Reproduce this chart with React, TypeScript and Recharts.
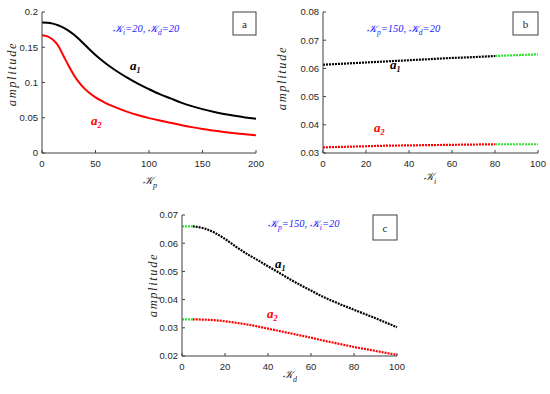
import { Line, LineChart, XAxis, YAxis } from "recharts";

// panel a: amplitude vs Kp (Ki = 20, Kd = 20)
const kp = [0, 5, 10, 15, 20, 25, 30, 35, 40, 45, 50, 55, 60, 70, 80, 90, 100, 110, 120, 130, 140, 150, 160, 170, 180, 190, 200];
const kpA1 = [0.185, 0.1847, 0.1835, 0.1812, 0.1778, 0.1733, 0.1678, 0.161, 0.1535, 0.146, 0.139, 0.1325, 0.1265, 0.116, 0.1065, 0.098, 0.0905, 0.0835, 0.0775, 0.0715, 0.0665, 0.0622, 0.0585, 0.0553, 0.0527, 0.0505, 0.0487];
const kpA2 = [0.167, 0.1655, 0.161, 0.1525, 0.138, 0.1235, 0.11, 0.0995, 0.091, 0.0845, 0.079, 0.0745, 0.0705, 0.064, 0.0583, 0.0535, 0.0495, 0.046, 0.0428, 0.0397, 0.0367, 0.034, 0.0318, 0.0298, 0.0281, 0.0265, 0.025];

// panel b: amplitude vs Ki (Kp = 150, Kd = 20), green beyond KI_SWITCH
const ki = [0, 10, 20, 30, 40, 50, 60, 70, 80, 90, 100];
const kiA1 = [0.0613, 0.0617, 0.0621, 0.0625, 0.0629, 0.0633, 0.0637, 0.064, 0.0644, 0.0647, 0.065];
const kiA2 = [0.032, 0.0322, 0.0324, 0.0326, 0.0327, 0.0328, 0.0329, 0.033, 0.0331, 0.0331, 0.0331];
const KI_SWITCH = 80;

// panel c: amplitude vs Kd (Kp = 150, Ki = 20), green below KD_SWITCH
const kd = [0, 5, 10, 15, 20, 25, 30, 35, 40, 45, 50, 55, 60, 65, 70, 75, 80, 85, 90, 95, 100];
const kdA1 = [0.066, 0.066, 0.0653, 0.0638, 0.0615, 0.0588, 0.0563, 0.0541, 0.0518, 0.0496, 0.0473, 0.0452, 0.0432, 0.0412, 0.0395, 0.0379, 0.0364, 0.0349, 0.0334, 0.0318, 0.0302];
const kdA2 = [0.033, 0.033, 0.0329, 0.0327, 0.0323, 0.0318, 0.0312, 0.0305, 0.0297, 0.0289, 0.0281, 0.0273, 0.0265, 0.0256, 0.0248, 0.024, 0.0232, 0.0225, 0.0218, 0.0211, 0.0204];
const KD_SWITCH = 5;

const aXTicks = [0, 50, 100, 150, 200];
const aYTicks = [0, 0.05, 0.1, 0.15, 0.2];
const bXTicks = [0, 20, 40, 60, 80, 100];
const bYTicks = [0.03, 0.04, 0.05, 0.06, 0.07, 0.08];
const cXTicks = [0, 20, 40, 60, 80, 100];
const cYTicks = [0.02, 0.03, 0.04, 0.05, 0.06, 0.07];

const dataA = kp.map((x, i) => ({ x, a1: kpA1[i], a2: kpA2[i] }));
const dataB = ki.map((x, i) => ({
  x,
  a1: x <= KI_SWITCH ? kiA1[i] : null,
  a2: x <= KI_SWITCH ? kiA2[i] : null,
  g1: x >= KI_SWITCH ? kiA1[i] : null,
  g2: x >= KI_SWITCH ? kiA2[i] : null,
}));
const dataC = kd.map((x, i) => ({
  x,
  a1: x >= KD_SWITCH ? kdA1[i] : null,
  a2: x >= KD_SWITCH ? kdA2[i] : null,
  g1: x <= KD_SWITCH ? kdA1[i] : null,
  g2: x <= KD_SWITCH ? kdA2[i] : null,
}));

const AXIS = "#404040";
const GREEN = "#2ee82e";
const BLUE = "#2323ff";
const tickStyle = { fontSize: 9.5, fill: "#262626", fontFamily: "Liberation Sans, Arial, sans-serif" };
const K = "\u{1D4A6}";

type PanelProps = {
  left: number;
  top: number;
  width: number;
  height: number;
  plot: { l: number; t: number; r: number; b: number };
  data: Record<string, number | null>[];
  xDomain: [number, number];
  yDomain: [number, number];
  xTicks: number[];
  yTicks: number[];
  dotted?: boolean;
};

function Panel({ left, top, width, height, plot, data, xDomain, yDomain, xTicks, yTicks, dotted }: PanelProps) {
  const lineProps = {
    type: "monotone" as const,
    dot: false,
    isAnimationActive: false,
    xAxisId: "b",
    yAxisId: "l",
    strokeWidth: dotted ? 2.2 : 2,
    strokeDasharray: dotted ? "2 1" : undefined,
    connectNulls: false,
  };
  return (
    <div style={{ position: "absolute", left, top }}>
      <LineChart
        width={width}
        height={height}
        data={data}
        margin={{ top: plot.t, right: width - plot.r, bottom: 0, left: 0 }}
      >
        <XAxis
          xAxisId="b"
          dataKey="x"
          type="number"
          domain={xDomain}
          ticks={xTicks}
          interval={0}
          height={height - plot.b}
          tickSize={-3}
          tickMargin={10}
          tick={tickStyle}
          stroke={AXIS}
        />
        <XAxis
          xAxisId="t"
          orientation="top"
          dataKey="x"
          type="number"
          domain={xDomain}
          ticks={xTicks}
          interval={0}
          height={0}
          tickSize={-3}
          tick={false}
          stroke={AXIS}
        />
        <YAxis
          yAxisId="l"
          type="number"
          domain={yDomain}
          ticks={yTicks}
          interval={0}
          width={plot.l}
          tickSize={-3}
          tickMargin={7}
          tick={tickStyle}
          stroke={AXIS}
          allowDataOverflow
        />
        <YAxis
          yAxisId="r"
          orientation="right"
          type="number"
          domain={yDomain}
          ticks={yTicks}
          interval={0}
          width={0}
          tickSize={-3}
          tick={false}
          stroke={AXIS}
        />
        <Line {...lineProps} dataKey="a1" stroke="#000000" />
        <Line {...lineProps} dataKey="a2" stroke="#ff0000" />
        {dotted && <Line {...lineProps} dataKey="g1" stroke={GREEN} />}
        {dotted && <Line {...lineProps} dataKey="g2" stroke={GREEN} />}
      </LineChart>
    </div>
  );
}

function Params({ x, y, p1, v1, p2, v2 }: { x: number; y: number; p1: string; v1: string; p2: string; v2: string }) {
  return (
    <text x={x} y={y} fill={BLUE} fontSize={10.5} fontStyle="italic" fontFamily="Liberation Serif, serif">
      <tspan>{K}</tspan>
      <tspan dy={3} fontSize={7.5}>{p1}</tspan>
      <tspan dy={-3}>{`=${v1}, ${K}`}</tspan>
      <tspan dy={3} fontSize={7.5}>{p2}</tspan>
      <tspan dy={-3}>{`=${v2}`}</tspan>
    </text>
  );
}

function CurveLabel({ x, y, sub, color }: { x: number; y: number; sub: string; color: string }) {
  return (
    <text x={x} y={y} fill={color} fontSize={13} fontStyle="italic" fontWeight="bold" fontFamily="Liberation Serif, serif">
      <tspan>a</tspan>
      <tspan dy={3} fontSize={8}>{sub}</tspan>
    </text>
  );
}

function AxisName({ x, y, sub }: { x: number; y: number; sub: string }) {
  return (
    <text x={x} y={y} fill="#262626" fontSize={11} fontStyle="italic" fontFamily="Liberation Serif, serif">
      <tspan>{K}</tspan>
      <tspan dy={4} fontSize={8}>{sub}</tspan>
    </text>
  );
}

function YName({ x, y }: { x: number; y: number }) {
  return (
    <text
      x={x}
      y={y}
      transform={`rotate(-90 ${x} ${y})`}
      textAnchor="middle"
      fill="#262626"
      fontSize={12.5}
      letterSpacing={1.6}
      fontStyle="italic"
      fontFamily="Liberation Serif, serif"
    >
      amplitude
    </text>
  );
}

function Tag({ x, y, w, h, label }: { x: number; y: number; w: number; h: number; label: string }) {
  return (
    <g>
      <rect x={x} y={y} width={w} height={h} fill="#fff" stroke={AXIS} strokeWidth={1} />
      <text x={x + w / 2} y={y + h / 2 + 4} textAnchor="middle" fontSize={11} fill="#262626" fontFamily="Liberation Serif, serif">
        {label}
      </text>
    </g>
  );
}

export default function App() {
  return (
    <div style={{ position: "absolute", left: 0, top: 0, width: 550, height: 394, background: "#fff" }}>
      <Panel
        left={0}
        top={0}
        width={275}
        height={195}
        plot={{ l: 42, t: 12, r: 256, b: 153 }}
        data={dataA}
        xDomain={[0, 200]}
        yDomain={[0, 0.2]}
        xTicks={aXTicks}
        yTicks={aYTicks}
      />
      <Panel
        left={275}
        top={0}
        width={275}
        height={195}
        plot={{ l: 48, t: 12, r: 263, b: 153 }}
        data={dataB}
        xDomain={[0, 100]}
        yDomain={[0.03, 0.08]}
        xTicks={bXTicks}
        yTicks={bYTicks}
        dotted
      />
      <Panel
        left={130}
        top={200}
        width={280}
        height={194}
        plot={{ l: 52, t: 15, r: 267, b: 156 }}
        data={dataC}
        xDomain={[0, 100]}
        yDomain={[0.02, 0.07]}
        xTicks={cXTicks}
        yTicks={cYTicks}
        dotted
      />
      <svg width={550} height={394} style={{ position: "absolute", left: 0, top: 0, pointerEvents: "none" }}>
        <Tag x={233} y={12} w={23} h={23} label="a" />
        <Tag x={513} y={12} w={25} h={23} label="b" />
        <Tag x={373} y={215} w={24} h={25} label="c" />

        <Params x={113} y={32} p1="i" v1="20" p2="d" v2="20" />
        <Params x={367} y={32} p1="p" v1="150" p2="d" v2="20" />
        <Params x={268} y={227} p1="p" v1="150" p2="i" v2="20" />

        <CurveLabel x={130} y={70} sub="1" color="#000" />
        <CurveLabel x={91} y={125} sub="2" color="#ff0000" />
        <CurveLabel x={390} y={69} sub="1" color="#000" />
        <CurveLabel x={374} y={132} sub="2" color="#ff0000" />
        <CurveLabel x={275} y={268} sub="1" color="#000" />
        <CurveLabel x={267} y={318} sub="2" color="#ff0000" />

        <AxisName x={143} y={184} sub="p" />
        <AxisName x={424} y={180} sub="i" />
        <AxisName x={283} y={378} sub="d" />

        <YName x={16} y={74} />
        <YName x={286} y={78} />
        <YName x={157} y={285} />
      </svg>
    </div>
  );
}
